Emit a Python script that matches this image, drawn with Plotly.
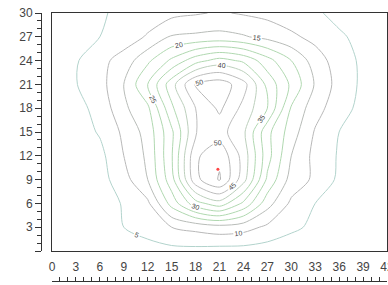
import plotly.graph_objects as go

# grid coordinates
x_vals = [0, 3, 6, 9, 12, 15, 18, 21, 24, 27, 30, 33, 36, 39, 42]
y_vals = [0, 3, 6, 9, 12, 15, 18, 21, 24, 27, 30]

# z values (rows = y, cols = x)
z_y0 = [0, 0.5, 1, 2, 3, 3.5, 3.5, 3, 3, 2.5, 2, 1, 0.5, 0.3, 0]
z_y3 = [0.5, 1, 3, 5, 7, 10, 11.5, 13, 12, 9, 6, 4, 2, 1, 0.5]
z_y6 = [0.5, 1, 2, 5.5, 9, 22, 33, 38, 29, 17, 9, 5, 2.5, 1.5, 1]
z_y9 = [1, 1.5, 3, 8, 15, 28, 48.5, 55.5, 42, 24, 13, 9, 4, 2, 1]
z_y12 = [1, 1.5, 3.5, 10, 16, 29.5, 49, 54, 43, 27, 15, 8.5, 4.5, 2, 1]
z_y15 = [1.5, 2.5, 5.5, 11, 17, 29, 44.8, 47, 41, 26.5, 17.5, 9.5, 5, 2.5, 1.5]
z_y18 = [2.5, 3.5, 6.5, 14, 19, 34, 45, 51, 43.5, 35, 19.5, 12, 7, 3.5, 2.5]
z_y21 = [4, 4.8, 8, 15, 25, 38, 50.5, 53, 47, 33.5, 24, 14.5, 8, 4, 3]
z_y24 = [3.5, 4.5, 8.5, 12, 19, 26, 33, 37, 34, 27, 20, 12.5, 7.5, 4, 3]
z_y27 = [3, 4, 5, 7.5, 10.5, 15.5, 16, 16.5, 15.5, 13.5, 11, 8.5, 5.5, 4, 3]
z_y30 = [2, 3, 4.5, 6, 7.5, 8.5, 9.5, 10.5, 9.5, 8.5, 7, 5.5, 4, 3, 2]
z_rows = [z_y0, z_y3, z_y6, z_y9, z_y12, z_y15, z_y18, z_y21, z_y24, z_y27, z_y30]

# peak marker
peak_x = [20.8]
peak_y = [10.3]

# axis ticks
x_tickvals = list(range(0, 43, 3))
x_ticktext = [str(v) for v in x_tickvals]
y_tickvals = list(range(0, 31, 3))
y_ticktext = [""] + [str(v) for v in y_tickvals[1:]]

W, H = 388, 285
ml, mr, mt, mb = 41, 1, 13, 4
pw = W - ml - mr
ph = H - mt - mb
x_dom0 = 11 / pw
y_dom0 = 30 / ph

fig = go.Figure()
fig.add_trace(go.Contour(
    x=x_vals, y=y_vals, z=z_rows,
    contours=dict(start=5, end=55, size=5, coloring="lines", showlabels=True,
                  labelfont=dict(size=7, color="#444", family="Liberation Sans")),
    colorscale=[[0, "#b2d3cc"], [0.1, "#b8b8b8"], [0.2, "#b8bcb8"], [0.3, "#b0d8b0"],
                [0.6, "#b0d8b0"], [0.7, "#bccfbc"], [0.8, "#bdbdbd"], [1, "#b0b0b0"]],
    zmin=5, zmax=55,
    line=dict(width=1, smoothing=0.8),
    showscale=False,
    hoverinfo="skip",
))
fig.add_trace(go.Scatter(
    x=peak_x, y=peak_y, mode="markers", xaxis="x2", yaxis="y2",
    marker=dict(color="#ff4444", size=3), showlegend=False, hoverinfo="skip",
))

font = dict(family="Liberation Sans, Arial, sans-serif", size=12, color="#444")
fig.update_layout(
    width=W, height=H,
    margin=dict(l=ml, r=mr, t=mt, b=mb, pad=0, autoexpand=False),
    paper_bgcolor="white", plot_bgcolor="white",
    showlegend=False,
    font=font,
    xaxis=dict(domain=[x_dom0, 1], range=[0, 42], showgrid=False, zeroline=False,
               showline=True, mirror=True, linecolor="#333", linewidth=1,
               tickvals=x_tickvals, ticktext=x_ticktext, ticks="outside",
               ticklen=5, tickcolor="rgba(0,0,0,0)", tickfont=font, anchor="y",
               automargin=False, ticklabeloverflow="allow"),
    yaxis=dict(domain=[y_dom0, 1], range=[0, 30], showgrid=False, zeroline=False,
               showline=True, mirror=True, linecolor="#333", linewidth=1,
               showticklabels=False, ticks="", anchor="x", automargin=False),
    xaxis2=dict(overlaying="x", anchor="free", position=0, range=[0, 42],
                showgrid=False, zeroline=False, showline=True, linecolor="#333",
                linewidth=1, ticks="inside", tick0=0, dtick=1, ticklen=4,
                tickcolor="#333", showticklabels=False, automargin=False),
    yaxis2=dict(overlaying="y", anchor="free", position=0, range=[0, 30],
                showgrid=False, zeroline=False, showline=True, linecolor="#333",
                linewidth=1, ticks="outside", tickvals=y_tickvals,
                ticktext=y_ticktext, ticklen=6, tickcolor="#333", tickfont=font,
                automargin=False, ticklabeloverflow="allow",
                minor=dict(dtick=1, tick0=0, ticks="outside", ticklen=4,
                           tickcolor="#333")),
)

fig.write_html("out.html", config={"displayModeBar": False},
               post_script="document.body.style.margin='0';document.body.style.overflow='hidden';")
